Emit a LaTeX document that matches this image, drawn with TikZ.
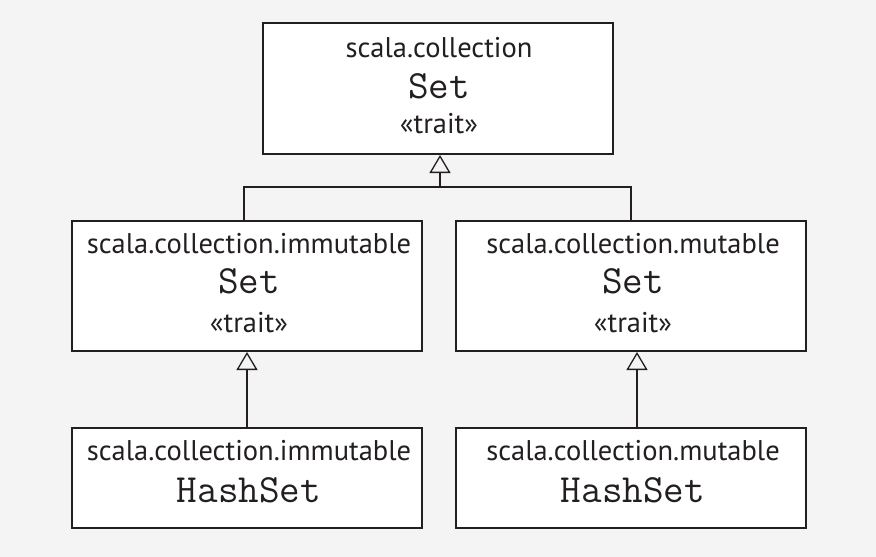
\documentclass[tikz,border=0pt]{standalone}
\usepackage{fontspec}
\setmainfont{PT Sans}
\usetikzlibrary{arrows.meta}
\definecolor{bg}{HTML}{F4F4F4}
\definecolor{ink}{HTML}{231F20}
\begin{document}
\begin{tikzpicture}[x=1pt,y=-1pt,
  box/.style={draw=ink,fill=white,line width=2pt,inner sep=0pt},
  pkg/.style={anchor=base,inner sep=0pt,text=ink,font=\fontsize{28.5}{28.5}\selectfont},
  cls/.style={anchor=base,inner sep=0pt,text=ink,font=\fontsize{40}{40}\selectfont\ttfamily},
  ster/.style={anchor=base,inner sep=0pt,text=ink,font=\fontsize{28.5}{28.5}\selectfont},
  tri/.tip={Triangle[open,length=18pt,width=21pt,line width=1.3pt]},
  inh/.style={draw=ink,-tri}]
\fill[bg] (0,0) rectangle (876,557);
\useasboundingbox (0,0) rectangle (876,557);
% boxes
\node[box,minimum width=350pt,minimum height=131pt] (top) at (438,88.5) {};
\node[box,minimum width=350pt,minimum height=130pt] (ml) at (247,286) {};
\node[box,minimum width=350pt,minimum height=130pt] (mr) at (631,286) {};
\node[box,minimum width=350pt,minimum height=100pt] (bl) at (247,478) {};
\node[box,minimum width=350pt,minimum height=100pt] (br) at (631,478) {};
% texts
\node[pkg] (t1) at (439,57) {scala.collection};
\node[cls] (t2) at (439,98) {Set};
\node[ster] (t3) at (439,133) {«trait»};
\node[pkg] (l1) at (249,253) {scala.collection.immutable};
\node[cls] (l2) at (249,293) {Set};
\node[ster] (l3) at (249,332) {«trait»};
\node[pkg] (r1) at (633,253) {scala.collection.mutable};
\node[cls] (r2) at (633,293) {Set};
\node[ster] (r3) at (633,332) {«trait»};
\node[pkg] (b1) at (249,460) {scala.collection.immutable};
\node[cls] (b2) at (249,502) {HashSet};
\node[pkg] (c1) at (633,460) {scala.collection.mutable};
\node[cls] (c2) at (633,502) {HashSet};
% connectors
\coordinate (j) at (440,187);
\draw[draw=ink,line width=2pt] (ml.north -| 244,0) -- (244,187) -- (631,187) -- (mr.north);
\draw[inh,line width=1.2pt] (j) -- (top.south -| j);
\draw[inh,line width=1.2pt] (bl.north) -- (ml.south);
\draw[inh,line width=2pt] (br.north -| 637,0) -- (mr.south -| 637,0);
\end{tikzpicture}
\end{document}
